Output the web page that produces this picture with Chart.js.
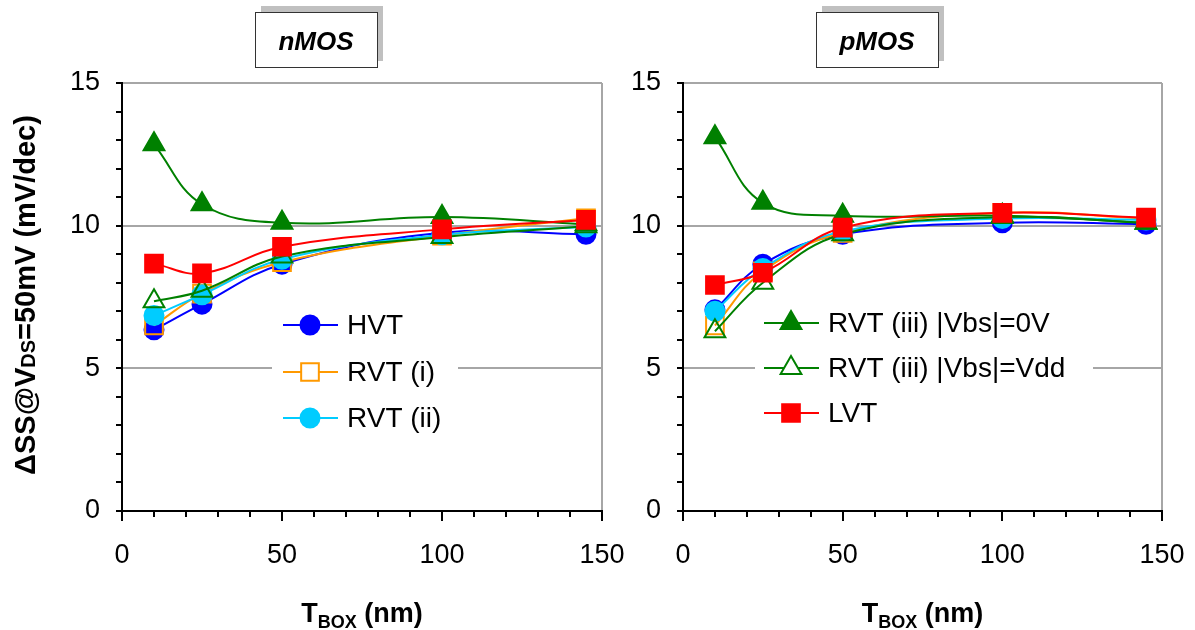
<!DOCTYPE html>
<html>
<head>
<meta charset="utf-8">
<script src="https://cdn.jsdelivr.net/npm/chart.js"></script>
<style>
  body { margin: 0; background: #fff; width: 1195px; height: 630px; overflow: hidden; position: relative; }
  .painel { position: absolute; top: 0; height: 630px; }
  #nwrap { left: 0; width: 650px; }
  #pwrap { left: 620px; width: 575px; }
</style>
</head>
<body>
<div class="painel" id="nwrap"><canvas id="nmos" width="650" height="630"></canvas></div>
<div class="painel" id="pwrap"><canvas id="pmos" width="575" height="630"></canvas></div>
<script>
// T_BOX (nm)
const tbox = [10, 25, 50, 100, 145];
const xTicks = [0, 50, 100, 150];
const yTicks = [0, 5, 10, 15];

// nMOS
const nHVT     = [6.35, 7.25, 8.65, 9.75, 9.7];
const nRVT1    = [6.5, 7.62, 8.72, 9.65, 10.26];
const nRVT2    = [6.85, 7.58, 8.82, 9.68, 9.95];
const nRVT3_0V = [12.85, 10.75, 10.1, 10.3, 10.05];
const nRVT3_Vdd = [7.35, 7.72, 8.92, 9.6, 9.98];
const nLVT     = [8.67, 8.33, 9.26, 9.87, 10.2];

// pMOS
const pHVT     = [7.05, 8.65, 9.7, 10.1, 10.05];
const pRVT1    = [6.5, 8.4, 9.75, 10.45, 10.25];
const pRVT2    = [7.0, 8.5, 9.8, 10.25, 10.2];
const pRVT3_0V = [13.1, 10.8, 10.35, 10.35, 10.1];
const pRVT3_Vdd = [6.3, 8.0, 9.7, 10.3, 10.1];
const pLVT     = [7.92, 8.35, 9.93, 10.45, 10.28];

const FAM = '"Liberation Sans", Arial, sans-serif';
const CINZA = '#a6a6a6';

// estilo de cada série
const estilos = {
  HVT:  { nome: 'HVT', cor: '#0000ff', marcador: 'circle', raio: 9.5, vazio: false, ordem: 6 },
  RVT1: { nome: 'RVT (i)', cor: '#ff9900', marcador: 'rect', raio: 12.5, vazio: true, ordem: 5 },
  RVT2: { nome: 'RVT (ii)', cor: '#00ccff', marcador: 'circle', raio: 9.5, vazio: false, ordem: 4 },
  V0:   { nome: 'RVT (iii) |Vbs|=0V', cor: '#008000', marcador: 'triangle', raio: 12, vazio: false, ordem: 3 },
  VDD:  { nome: 'RVT (iii) |Vbs|=Vdd', cor: '#008000', marcador: 'triangle', raio: 12, vazio: true, ordem: 2 },
  LVT:  { nome: 'LVT', cor: '#ff0000', marcador: 'rect', raio: 12.5, vazio: false, ordem: 1 }
};

function linha(ctx, x1, y1, x2, y2) {
  ctx.beginPath(); ctx.moveTo(x1, y1); ctx.lineTo(x2, y2); ctx.stroke();
}

function desenharTituloY(ctx) {
  const f1 = 'bold 29px ' + FAM, f2 = 'bold 20px ' + FAM;
  const partes = [['ΔSS@V', f1, 0], ['DS', f2, 0], ['=50mV (mV/dec)', f1, 0]];
  let total = 0;
  partes.forEach(p => { ctx.font = p[1]; p.push(ctx.measureText(p[0]).width); total += p[3]; });
  ctx.save();
  ctx.translate(35, 295);
  ctx.rotate(-Math.PI / 2);
  ctx.fillStyle = '#000';
  ctx.textAlign = 'left';
  ctx.textBaseline = 'alphabetic';
  let x = -total / 2;
  partes.forEach(p => { ctx.font = p[1]; ctx.fillText(p[0], x, p[2]); x += p[3]; });
  ctx.restore();
}

function desenharTituloX(ctx, cx) {
  const f1 = 'bold 27px ' + FAM, f2 = 'bold 18px ' + FAM;
  ctx.font = f1;
  const wT = ctx.measureText('T').width;
  const wR = ctx.measureText(' (nm)').width;
  ctx.font = f2;
  const wB = ctx.measureText('BOX').width;
  let x = cx - (wT + wB + wR) / 2;
  const base = 622;
  ctx.fillStyle = '#000';
  ctx.textAlign = 'left';
  ctx.textBaseline = 'alphabetic';
  ctx.font = f1; ctx.fillText('T', x, base); x += wT;
  ctx.font = f2; ctx.fillText('BOX', x, base + 6); x += wB;
  ctx.font = f1; ctx.fillText(' (nm)', x, base);
}

function desenharCaixaTitulo(ctx, texto, left) {
  const top = 12, w = 122, h = 55;
  ctx.fillStyle = '#c0c0c0';
  ctx.fillRect(left + 6, top - 6, w, h);
  ctx.fillStyle = '#fff';
  ctx.fillRect(left, top, w, h);
  ctx.strokeStyle = '#333';
  ctx.lineWidth = 1;
  ctx.strokeRect(left + 0.5, top + 0.5, w, h);
  ctx.fillStyle = '#000';
  ctx.font = 'italic bold 26px ' + FAM;
  ctx.textAlign = 'center';
  ctx.textBaseline = 'middle';
  ctx.fillText(texto, left + w / 2, top + h / 2 + 3);
}

function desenharLegenda(ctx, leg) {
  ctx.fillStyle = '#fff';
  ctx.fillRect(leg.x, leg.y, leg.w, leg.h);
  leg.itens.forEach((chave, i) => {
    const e = estilos[chave];
    const y = leg.linhas[i];
    ctx.strokeStyle = e.cor;
    ctx.lineWidth = 2;
    linha(ctx, leg.x1, y, leg.x1 + 55, y);
    ctx.fillStyle = e.vazio ? '#fff' : e.cor;
    ctx.strokeStyle = e.cor;
    ctx.lineWidth = 2;
    Chart.helpers.drawPoint(ctx, { pointStyle: e.marcador, radius: e.raio, rotation: 0, borderWidth: 2 }, leg.x1 + 27, y);
    ctx.fillStyle = '#000';
    ctx.font = '28px ' + FAM;
    ctx.textAlign = 'left';
    ctx.textBaseline = 'middle';
    ctx.fillText(e.nome, leg.x1 + 64, y + 1);
  });
}

function criarPainel(id, titulo, series, geo) {
  const datasets = series.map(([chave, valores]) => {
    const e = estilos[chave];
    return {
      label: e.nome,
      data: valores.map((v, i) => ({ x: tbox[i], y: v })),
      borderColor: e.cor,
      backgroundColor: e.cor,
      borderWidth: 2,
      tension: 0.4,
      pointStyle: e.marcador,
      pointRadius: e.raio,
      pointBackgroundColor: e.vazio ? 'rgba(0,0,0,0)' : e.cor,
      pointBorderColor: e.cor,
      pointBorderWidth: 2,
      order: e.ordem
    };
  });

  const desenhos = {
    id: 'desenhos',
    afterDraw(chart) {
      const ctx = chart.ctx;
      const xs = chart.scales.x, ys = chart.scales.y;
      const area = chart.chartArea;
      ctx.save();
      // marcas menores dos eixos
      ctx.strokeStyle = '#000';
      ctx.lineWidth = 2;
      for (let v = 0; v <= 150; v += 10) {
        const px = Math.round(xs.getPixelForValue(v));
        linha(ctx, px, area.bottom, px, area.bottom + (v % 50 === 0 ? 10 : 6));
      }
      for (let v = 0; v <= 15; v++) {
        const py = Math.round(ys.getPixelForValue(v));
        linha(ctx, area.left - 6, py, area.left, py);
      }
      desenharCaixaTitulo(ctx, titulo, area.left + 133);
      desenharTituloX(ctx, (area.left + area.right) / 2);
      if (geo.tituloY) desenharTituloY(ctx);
      desenharLegenda(ctx, geo.legenda);
      ctx.restore();
    }
  };

  const fonteTicks = { family: FAM, size: 27 };

  return new Chart(document.getElementById(id), {
    type: 'line',
    data: { datasets },
    options: {
      responsive: false,
      animation: false,
      devicePixelRatio: 1,
      layout: { autoPadding: false, padding: { left: 0, right: geo.direita, top: 83, bottom: 0 } },
      plugins: { legend: { display: false }, tooltip: { enabled: false } },
      scales: {
        x: {
          type: 'linear', min: 0, max: 150,
          afterBuildTicks: s => { s.ticks = xTicks.map(v => ({ value: v })); },
          afterFit: s => { s.height = 119; s.paddingLeft = 0; s.paddingRight = 0; },
          ticks: { font: fonteTicks, color: '#000', padding: 28, maxRotation: 0, autoSkip: false },
          grid: { drawTicks: false, lineWidth: 2, color: c => (c.tick && c.tick.value === 150 ? CINZA : 'rgba(0,0,0,0)') },
          border: { color: '#000', width: 2 }
        },
        y: {
          min: 0, max: 15,
          afterBuildTicks: s => { s.ticks = yTicks.map(v => ({ value: v })); },
          afterFit: s => { s.width = geo.esquerda; s.paddingTop = 0; s.paddingBottom = 0; },
          ticks: { font: fonteTicks, color: '#000', padding: 22 },
          grid: { drawTicks: false, lineWidth: 2, color: c => (c.tick && c.tick.value === 0 ? 'rgba(0,0,0,0)' : CINZA) },
          border: { color: '#000', width: 2 }
        }
      }
    },
    plugins: [desenhos]
  });
}

criarPainel('nmos', 'nMOS', [
  ['HVT', nHVT], ['RVT1', nRVT1], ['RVT2', nRVT2],
  ['V0', nRVT3_0V], ['VDD', nRVT3_Vdd], ['LVT', nLVT]
], {
  esquerda: 122, direita: 48, tituloY: true,
  legenda: { x: 272, y: 300, w: 186, h: 140, x1: 283, linhas: [325, 372, 418], itens: ['HVT', 'RVT1', 'RVT2'] }
});

criarPainel('pmos', 'pMOS', [
  ['HVT', pHVT], ['RVT1', pRVT1], ['RVT2', pRVT2],
  ['V0', pRVT3_0V], ['VDD', pRVT3_Vdd], ['LVT', pLVT]
], {
  esquerda: 63, direita: 33, tituloY: false,
  legenda: { x: 135, y: 298, w: 338, h: 140, x1: 144, linhas: [323, 368, 413], itens: ['V0', 'VDD', 'LVT'] }
});
</script>
</body>
</html>
